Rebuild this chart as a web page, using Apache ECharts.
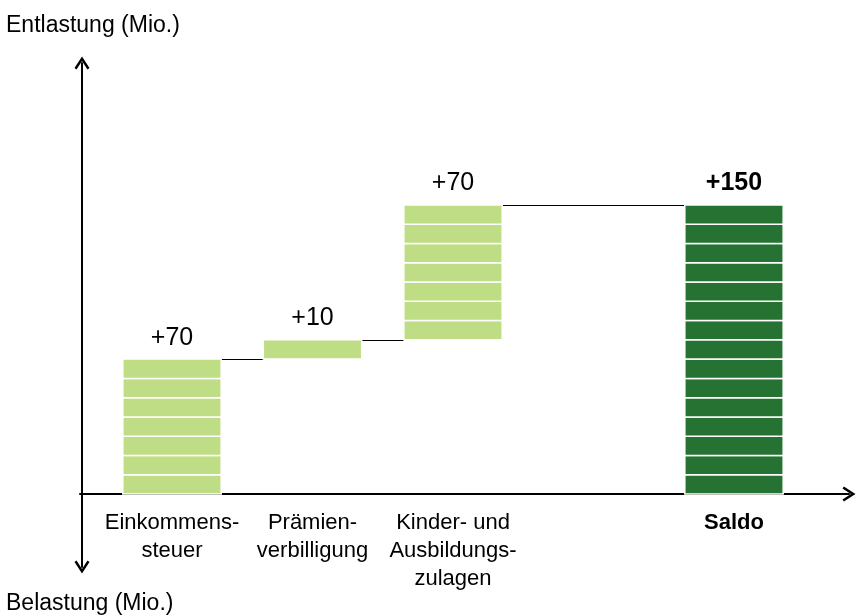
<!DOCTYPE html>
<html>
<head>
<meta charset="utf-8">
<script src="https://cdn.jsdelivr.net/npm/echarts@6/dist/echarts.min.js"></script>
<style>
  html, body { margin: 0; padding: 0; background: #fff; }
  #main { width: 856px; height: 615px; }
</style>
</head>
<body>
<div id="main"></div>
<script>
// Daten
var categories = ['Einkommens-\nsteuer', 'Prämien-\nverbilligung', 'Kinder- und\nAusbildungs-\nzulagen', 'Saldo'];
var positions = [0, 1, 2, 4];      // Saldo steht eine Spalte weiter rechts
var deltas = [70, 10, 70];
var saldo = 150;
var step = 10;                     // Höhe eines Blocks

var FONT = 'Liberation Sans, Arial, sans-serif';
var light = '#bedd85';
var dark = '#267232';

// Balken: [x, von, bis]
var bars = [];
var texts = [];
var cum = 0;
deltas.forEach(function (d, i) {
  bars.push([positions[i], cum, cum + d]);
  texts.push('+' + d);
  cum += d;
});
bars.push([positions[3], 0, saldo]);
texts.push('+' + saldo);

// Verbindungslinien: [x1, x2, Niveau]
var links = [];
for (var i = 0; i < bars.length - 1; i++) {
  links.push([bars[i][0] + 0.35, bars[i + 1][0] - 0.35, bars[i][2]]);
}

var chevron = 'path://M7.5,0 L15,11.6 L13,13 L7.5,4.6 L2,13 L0,11.6 Z';

var myChart = echarts.init(document.getElementById('main'));
var option = {
  animation: false,
  title: [
    { text: 'Entlastung (Mio.)', left: 1, top: 9,
      textStyle: { fontFamily: FONT, fontSize: 23, fontWeight: 'normal', color: '#000' } },
    { text: 'Belastung (Mio.)', left: 1, top: 587,
      textStyle: { fontFamily: FONT, fontSize: 23, fontWeight: 'normal', color: '#000' } }
  ],
  grid: { left: 80, right: 7, top: 63, bottom: 48, containLabel: false, outerBoundsMode: 'none' },
  xAxis: {
    type: 'value',
    min: -0.6548,
    max: 4.8185,
    splitLine: { show: false },
    axisTick: { show: false },
    axisLine: {
      onZero: true,
      symbol: ['none', chevron],
      symbolSize: [15, 14],
      lineStyle: { color: '#000', width: 2 }
    },
    axisLabel: {
      customValues: positions,
      margin: -58,   // Beschriftung sitzt direkt unter der Nulllinie
      fontFamily: FONT,
      fontSize: 22,
      lineHeight: 28,
      color: '#000',
      align: 'center',
      formatter: function (v) {
        var idx = positions.indexOf(v);
        if (idx < 0) return '';
        if (idx === 3) return '{b|' + categories[idx] + '}';
        return categories[idx];
      },
      rich: {
        b: { fontFamily: FONT, fontSize: 22, fontWeight: 'bold', color: '#000', lineHeight: 28 }
      }
    }
  },
  yAxis: {
    type: 'value',
    min: -37.9,
    max: 223.7,
    offset: -2,
    splitLine: { show: false },
    axisTick: { show: false },
    axisLabel: { show: false },
    axisLine: {
      show: true,
      onZero: false,
      symbol: [chevron, chevron],
      symbolSize: [15, 14],
      lineStyle: { color: '#000', width: 2 }
    }
  },
  series: [
    {
      type: 'custom',
      data: links,
      renderItem: function (params, api) {
        var a = api.coord([api.value(0), api.value(2)]);
        var b = api.coord([api.value(1), api.value(2)]);
        return {
          type: 'line',
          shape: { x1: a[0], y1: Math.round(a[1]) + 0.5, x2: b[0], y2: Math.round(b[1]) + 0.5 },
          style: { stroke: '#000', lineWidth: 1 }
        };
      }
    },
    {
      type: 'custom',
      data: bars,
      renderItem: function (params, api) {
        var x = api.value(0), lo = api.value(1), hi = api.value(2);
        var isSaldo = params.dataIndex === bars.length - 1;
        var children = [];
        for (var v = lo; v < hi; v += step) {
          var p1 = api.coord([x - 0.35, v + step]);
          var p2 = api.coord([x + 0.35, v]);
          children.push({
            type: 'rect',
            shape: { x: p1[0], y: p1[1], width: p2[0] - p1[0], height: p2[1] - p1[1] },
            style: { fill: isSaldo ? dark : light, stroke: '#fff', lineWidth: 1.5 }
          });
        }
        var top = api.coord([x, hi]);
        children.push({
          type: 'text',
          style: {
            text: texts[params.dataIndex],
            x: top[0], y: top[1] - 9,
            align: 'center', verticalAlign: 'bottom',
            fontFamily: FONT, fontSize: 25,
            fontWeight: isSaldo ? 'bold' : 'normal',
            fill: '#000'
          }
        });
        return { type: 'group', children: children };
      }
    }
  ]
};
myChart.setOption(option);
</script>
</body>
</html>
